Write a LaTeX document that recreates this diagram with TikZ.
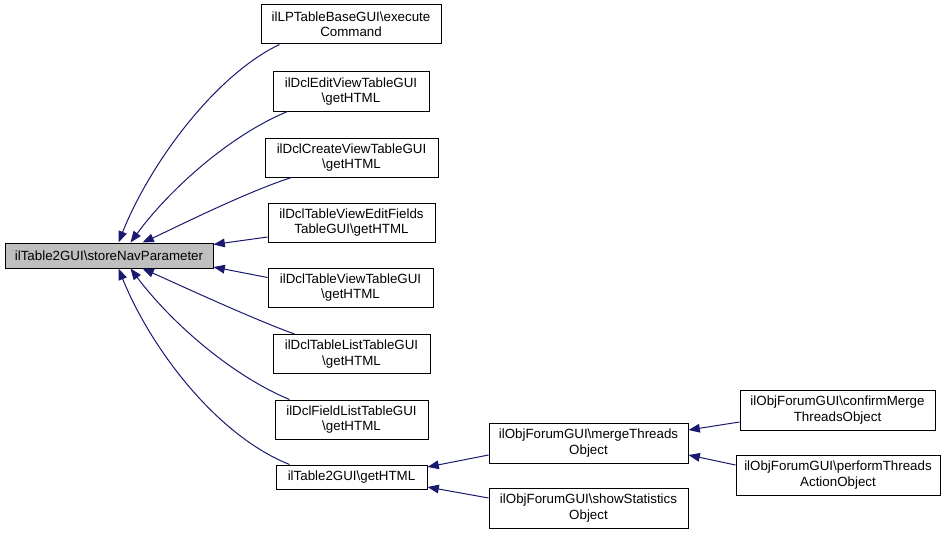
\documentclass[tikz,border=0pt]{standalone}
\usepackage{fontspec}
\setmainfont{Liberation Sans}
\usetikzlibrary{arrows.meta,calc}
\definecolor{edgeblue}{HTML}{191970}
\definecolor{rootgrey}{HTML}{BFBFBF}
\begin{document}
\begin{tikzpicture}[x=0.75pt,y=-0.75pt,
  box/.style={draw=black,line width=0.75pt,fill=white,inner sep=0pt,align=center,
    font=\fontsize{10}{11.5}\selectfont,minimum height=29.25pt},
  rootbox/.style={box,fill=rootgrey,minimum height=18.75pt},
  edge/.style={draw=edgeblue,line width=0.75pt,
    -{Triangle[length=8.5pt,width=6.5pt,fill=edgeblue]}}]
\useasboundingbox (0,0) rectangle (945,535);
\fill[white] (0,0) rectangle (945,535);

\node[rootbox,minimum width=156pt] (root) at (109,255.5) {ilTable2GUI\textbackslash storeNavParameter};
\node[box,minimum width=135pt] (n1) at (351,24.5) {ilLPTableBaseGUI\textbackslash execute\\Command};
\node[box,minimum width=117pt] (n2) at (351,91.5) {ilDclEditViewTableGUI\\\textbackslash getHTML};
\node[box,minimum width=129.75pt] (n3) at (351.5,157.5) {ilDclCreateViewTableGUI\\\textbackslash getHTML};
\node[box,minimum width=125.25pt] (n4) at (351.5,222.5) {ilDclTableViewEditFields\\TableGUI\textbackslash getHTML};
\node[box,minimum width=123.75pt] (n5) at (350.5,287.5) {ilDclTableViewTableGUI\\\textbackslash getHTML};
\node[box,minimum width=117.75pt] (n6) at (351.5,354) {ilDclTableListTableGUI\\\textbackslash getHTML};
\node[box,minimum width=114.75pt] (n7) at (351.5,419.5) {ilDclFieldListTableGUI\\\textbackslash getHTML};
\node[box,minimum width=113.25pt,minimum height=18pt] (n8) at (351.5,477) {ilTable2GUI\textbackslash getHTML};
\node[box,minimum width=149.25pt,minimum height=30pt] (n9) at (588.5,443) {ilObjForumGUI\textbackslash mergeThreads\\Object};
\node[box,minimum width=149.25pt,minimum height=30pt] (n10) at (588.5,508) {ilObjForumGUI\textbackslash showStatistics\\Object};
\node[box,minimum width=146.25pt,minimum height=30pt] (n11) at (837.5,410) {ilObjForumGUI\textbackslash confirmMerge\\ThreadsObject};
\node[box,minimum width=153pt,minimum height=30pt] (n12) at (838,475) {ilObjForumGUI\textbackslash performThreads\\ActionObject};

\draw[edge] ($(n1.south west)+(19,0)$) .. controls ($(n1.south west)+(-46,31)$) and ($(root.north west)+(145,-78)$) .. ($(root.north west)+(114,0)$);
\draw[edge] ($(n2.south west)+(15,0)$) .. controls ($(n2.south west)+(-43,24)$) and ($(root.north west)+(165,-53)$) .. ($(root.north west)+(126,0)$);
\draw[edge] ($(n3.south west)+(27,0)$) .. controls ($(n3.south west)+(-20,15)$) and ($(root.north west)+(165,-12)$) .. ($(root.north west)+(138,0)$);
\draw[edge] ($(n4.west)+(0,14.5)$) -- ($(root.north east)+(0,2)$);
\draw[edge] ($(n5.west)+(0,-10)$) -- ($(root.south east)+(0,-1.5)$);
\draw[edge] ($(n6.north west)+(22,0)$) .. controls ($(n6.north west)+(-20,-15)$) and ($(root.south west)+(165,12)$) .. ($(root.south west)+(138,0)$);
\draw[edge] ($(n7.north west)+(15,0)$) .. controls ($(n7.north west)+(-45,-25)$) and ($(root.south west)+(165,52)$) .. ($(root.south west)+(126,0)$);
\draw[edge] ($(n8.north west)+(14,0)$) .. controls ($(n8.north west)+(-61,-30)$) and ($(root.south west)+(145,77)$) .. ($(root.south west)+(114,0)$);
\draw[edge] ($(n9.west)+(0,12)$) -- ($(n8.east)+(0,-10)$);
\draw[edge] ($(n10.west)+(0,-10)$) -- ($(n8.east)+(0,10)$);
\draw[edge] ($(n11.west)+(0,12)$) -- ($(n9.east)+(0,-13)$);
\draw[edge] ($(n12.west)+(0,-10)$) -- ($(n9.east)+(0,12)$);
\end{tikzpicture}
\end{document}
